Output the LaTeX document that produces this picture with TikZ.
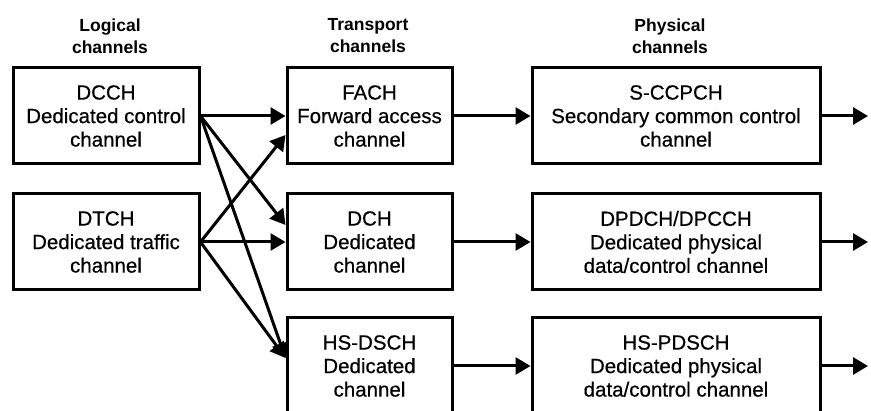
\documentclass[tikz,border=0pt]{standalone}
\usepackage{fontspec}
\setmainfont{Liberation Sans}
\newfontfamily\boxfont[FakeBold=0.5]{Liberation Sans}
\usetikzlibrary{arrows.meta,positioning}
\begin{document}
\begin{tikzpicture}[x=1pt,y=-1pt,
  chbox/.style={draw=black,line width=3pt,minimum width=#1,minimum height=96pt,align=center,inner sep=0pt,font=\boxfont\fontsize{20.5}{23.5}\selectfont},
  chbox/.default=186pt,
  title/.style={align=center,font=\bfseries\fontsize{17.5}{22}\selectfont},
  conn/.style={line width=3pt,-{Triangle[length=15pt,width=17pt]}}]
\useasboundingbox (0,0) rectangle (871,411);
\clip (0,0) rectangle (871,411);
% titles
\node[title] (tl) at (110,36) {Logical\\channels};
\node[title] (tt) at (368,36) {Transport\\channels};
\node[title] (tp) at (670,36) {Physical\\channels};
% logical
\node[chbox=186pt] (dcch) at (106,116) {DCCH\\Dedicated control\\channel};
\node[chbox=186pt] (dtch) at (106,242) {DTCH\\Dedicated traffic\\channel};
% transport
\node[chbox=165pt] (fach) at (369.5,116) {FACH\\Forward access\\channel};
\node[chbox=165pt] (dch) at (369.5,242) {DCH\\Dedicated\\channel};
\node[chbox=165pt] (hsdsch) at (369.5,366) {HS-DSCH\\Dedicated\\channel};
% physical
\node[chbox=288pt] (sccpch) at (676,116) {S-CCPCH\\Secondary common control\\channel};
\node[chbox=288pt] (dpdch) at (676,242) {DPDCH/DPCCH\\Dedicated physical\\data/control channel};
\node[chbox=288pt] (hspdsch) at (676,366) {HS-PDSCH\\Dedicated physical\\data/control channel};
% entry points
\coordinate (fachlow) at ([yshift=-19pt]fach.west);
\coordinate (dchhigh) at ([yshift=17pt]dch.west);
\coordinate (hsin) at ([yshift=8pt]hsdsch.west);
\coordinate (o1) at (868,116);
\coordinate (o2) at (868,242);
\coordinate (o3) at (868,366);
% connectors
\draw[conn] (dcch.east) -- (fach.west);
\draw[conn] (dcch.east) -- (dchhigh);
\draw[conn] (dcch.east) -- (hsin);
\draw[conn] (dtch.east) -- (fachlow);
\draw[conn] (dtch.east) -- (dch.west);
\draw[conn] (dtch.east) -- (hsin);
\draw[conn] (fach.east) -- (sccpch.west);
\draw[conn] (dch.east) -- (dpdch.west);
\draw[conn] (hsdsch.east) -- (hspdsch.west);
\draw[conn] (sccpch.east) -- (o1);
\draw[conn] (dpdch.east) -- (o2);
\draw[conn] (hspdsch.east) -- (o3);
\end{tikzpicture}
\end{document}
